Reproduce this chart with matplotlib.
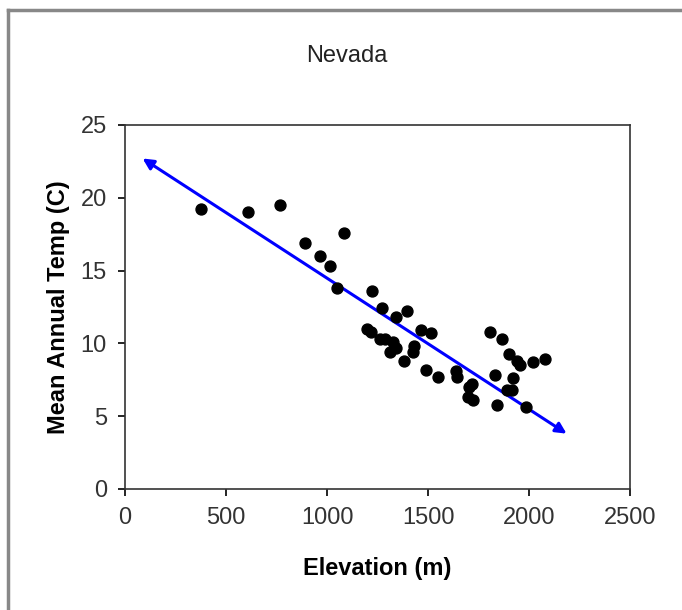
import matplotlib.pyplot as plt
from matplotlib.lines import Line2D

plt.rcParams['font.family'] = ['Liberation Sans', 'DejaVu Sans']

# station elevation (m) and mean annual temperature (C)
elevation = [376, 610, 769, 891, 964, 1017, 1084, 1049, 1224, 1270,
             1341, 1394, 1196, 1216, 1262, 1287, 1328, 1341, 1312, 1463,
             1513, 1431, 1424, 1383, 1490, 1551, 1639, 1645, 1705,
             1807, 1868, 1903, 1939, 1955, 2018, 2079, 1832, 1919, 1719,
             1889, 1914, 1700, 1721, 1843, 1983]
temp = [19.2, 19.0, 19.5, 16.9, 16.0, 15.3, 17.6, 13.8, 13.6, 12.4,
        11.8, 12.2, 11.0, 10.8, 10.3, 10.3, 10.1, 9.7, 9.4, 10.9,
        10.7, 9.8, 9.4, 8.8, 8.2, 7.7, 8.1, 7.7, 7.0,
        10.8, 10.3, 9.3, 8.8, 8.5, 8.7, 8.9, 7.8, 7.65, 7.2,
        6.8, 6.8, 6.3, 6.1, 5.8, 5.6]

# trend line end points (arrow tips)
trend_x = [87, 2186]
trend_y = [22.7, 3.8]

fig = plt.figure(figsize=(6.82, 6.1), dpi=100)
ax = fig.add_axes([0.1833, 0.1984, 0.7405, 0.5967])

ax.scatter(elevation, temp, s=62, color='black', zorder=3)

ax.annotate('', xy=(trend_x[1], trend_y[1]), xytext=(trend_x[0], trend_y[0]),
            arrowprops=dict(arrowstyle='<|-|>', color='#0000ff', lw=2.2,
                            mutation_scale=16, shrinkA=0, shrinkB=0),
            zorder=2)

ax.set_xlim(0, 2500)
ax.set_ylim(0, 25)
ax.set_xticks(range(0, 2501, 500))
ax.set_yticks(range(0, 26, 5))
ax.tick_params(direction='out', length=5, width=1.2, labelsize=17,
               labelcolor='#333333', pad=8)
for s in ax.spines.values():
    s.set_linewidth(1.2)
    s.set_color('#333333')

ax.set_xlabel('Elevation (m)', fontsize=17, fontweight='bold', labelpad=20)
ax.set_ylabel('Mean Annual Temp (C)', fontsize=17, fontweight='bold', labelpad=8)
fig.text(0.508, 0.908, 'Nevada', fontsize=17, ha='center', va='center',
         color='#222222')

# outer chart frame (top and left edges only)
fig.add_artist(Line2D([0.011, 1.0], [0.984, 0.984], color='#888888', lw=2.5,
                      transform=fig.transFigure))
fig.add_artist(Line2D([0.011, 0.011], [0.0, 0.984], color='#888888', lw=2.5,
                      transform=fig.transFigure))

fig.savefig('out.png', dpi=100)
